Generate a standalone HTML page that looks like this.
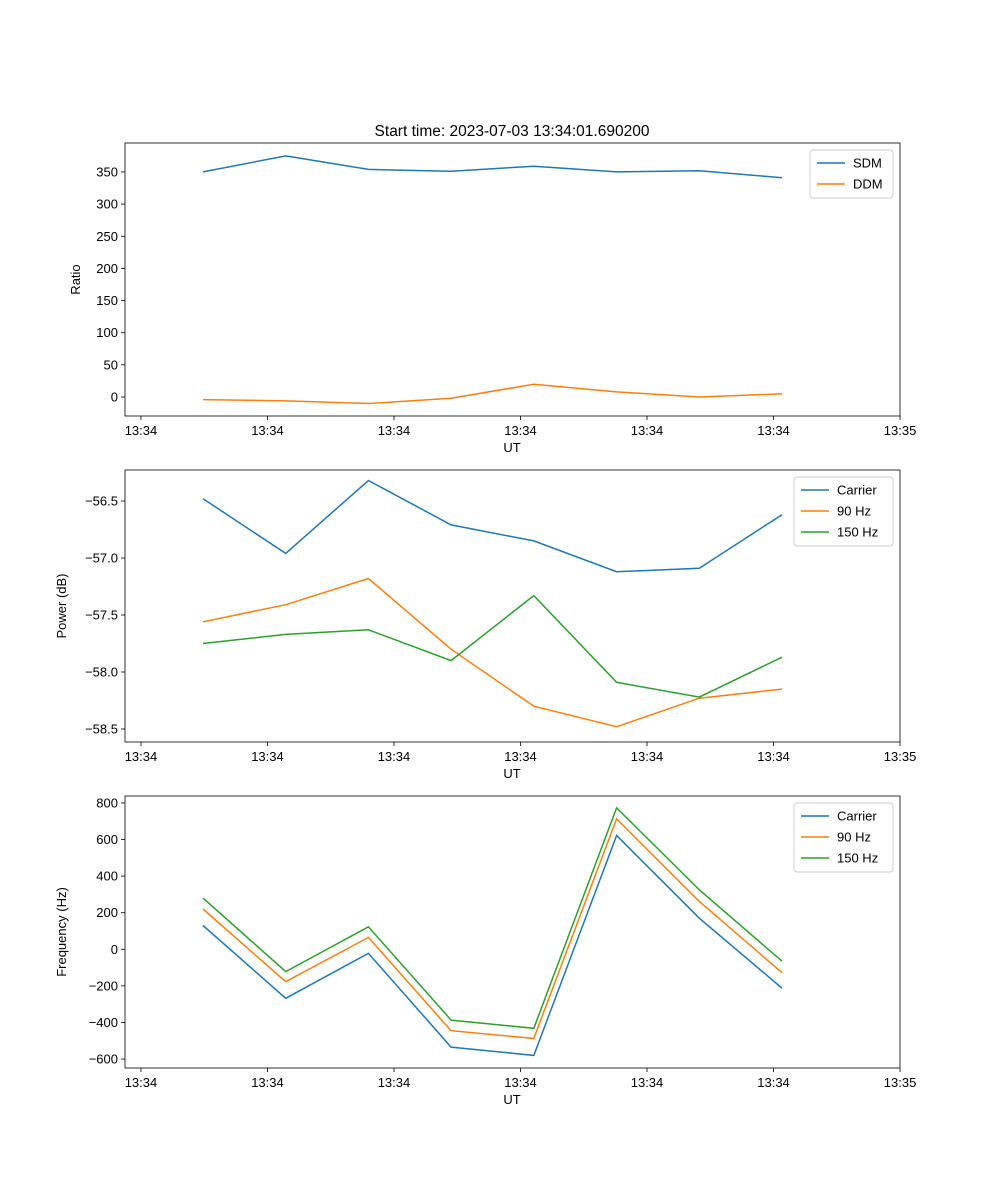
<!DOCTYPE html>
<html><head><meta charset="utf-8"><style>
body{margin:0;background:#fff}
svg{display:block;font-family:"Liberation Sans","DejaVu Sans",sans-serif}
</style></head><body>
<svg id="c" width="1000" height="1200" viewBox="0 0 1000 1200" xmlns="http://www.w3.org/2000/svg"></svg>
<script>
const times=[0,1,2,3,4,5,6,7];
const xTickLabels=["13:34","13:34","13:34","13:34","13:34","13:34","13:35"];
const sdm=[350,375,354,351,359,350,352,341];
const ddm=[-4,-6,-10,-2,20,8,0,5];
const pCarrier=[-56.48,-56.96,-56.32,-56.71,-56.85,-57.12,-57.09,-56.62];
const p90=[-57.56,-57.41,-57.18,-57.80,-58.30,-58.48,-58.23,-58.15];
const p150=[-57.75,-57.67,-57.63,-57.90,-57.33,-58.09,-58.22,-57.87];
const fCarrier=[130,-268,-22,-535,-580,622,170,-213];
const f90=[220,-177,65,-445,-487,713,262,-128];
const f150=[280,-122,123,-387,-432,773,325,-65];
const ratioTicks=[0,50,100,150,200,250,300,350];
const powerTicks=[-58.5,-58.0,-57.5,-57.0,-56.5];
const freqTicks=[-600,-400,-200,0,200,400,600,800];

const NS="http://www.w3.org/2000/svg";
const svg=document.getElementById('c');
function el(t,a,p){const e=document.createElementNS(NS,t);for(const k in a)e.setAttribute(k,a[k]);(p||svg).appendChild(e);return e;}
const X0=125,X1=900,xmin=-0.943,xmax=8.427;
const xs=v=>X0+(v-xmin)/(xmax-xmin)*(X1-X0);
const xTickPos=[0,1,2,3,4,5,6].map(i=>-0.75+i*1.5296);
const C=['#1f77b4','#ff7f0e','#2ca02c'];

function panel(name,top,bot,ymin,ymax,yticks,fmt,series,labels,ylabel,legW){
  const g=el('g',{});
  
  
  const ys=v=>bot-(v-ymin)/(ymax-ymin)*(bot-top);
  yticks.forEach(t=>{
    const y=ys(t);
    const l=el('line',{x1:X0-4,x2:X0,y1:y,y2:y,stroke:'#000','stroke-width':0.8},g);
    
    const tx=el('text',{x:X0-7,y:y+4.5,'text-anchor':'end','font-size':13},g);
    
    tx.textContent=fmt(t);
  });
  xTickPos.forEach((v,i)=>{
    const x=xs(v);
    el('line',{x1:x,x2:x,y1:bot,y2:bot+4,stroke:'#000','stroke-width':0.8},g);
    const tx=el('text',{x:x,y:bot+19,'text-anchor':'middle','font-size':13},g);
    
    tx.textContent=xTickLabels[i];
  });
  series.forEach((s,k)=>{
    const d=s.map((v,i)=>(i?'L':'M')+xs(times[i]).toFixed(1)+','+ys(v).toFixed(1)).join('');
    const p=el('path',{d:d,fill:'none',stroke:C[k],'stroke-width':1.5},g);
    
    
  });
  el('rect',{x:X0,y:top,width:X1-X0,height:bot-top,fill:'none',stroke:'#000','stroke-width':0.8},g);
  const xl=el('text',{x:512,y:bot+36,'text-anchor':'middle','font-size':13},g);
  
  xl.textContent='UT';
  const lx=name==='ratio-panel'?80:66;
  const yl=el('text',{x:lx,y:(top+bot)/2,'text-anchor':'middle','font-size':13,transform:`rotate(-90 ${lx} ${(top+bot)/2})`},g);
  
  yl.textContent=ylabel;
  const lg=el('g',{},g);
  
  const lxx=893-legW;
  el('rect',{x:lxx,y:top+7,width:legW,height:labels.length*21+6,rx:3,fill:'#fff',stroke:'#ccc'},lg);
  labels.forEach((lab,k)=>{
    const y=top+20+k*21;
    el('line',{x1:lxx+7,x2:lxx+35,y1:y,y2:y,stroke:C[k],'stroke-width':1.5},lg);
    const t=el('text',{x:lxx+43,y:y+4.5,'font-size':13},lg);
    
    t.textContent=lab;
  });
}
const title=el('text',{x:512,y:136,'text-anchor':'middle','font-size':15.5});


title.textContent='Start time: 2023-07-03 13:34:01.690200';
panel('ratio-panel',143,416,-29.5,395,ratioTicks,v=>String(v),[sdm,ddm],['SDM','DDM'],'Ratio',83);
panel('power-panel',470,742,-58.614,-56.228,powerTicks,v=>'\u2212'.repeat(v<0?1:0)+Math.abs(v).toFixed(1),[pCarrier,p90,p150],['Carrier','90 Hz','150 Hz'],'Power (dB)',99);
panel('frequency-panel',796,1068,-649,838,freqTicks,v=>(v<0?'\u2212':'')+Math.abs(v),[fCarrier,f90,f150],['Carrier','90 Hz','150 Hz'],'Frequency (Hz)',99);
</script>
</body></html>
